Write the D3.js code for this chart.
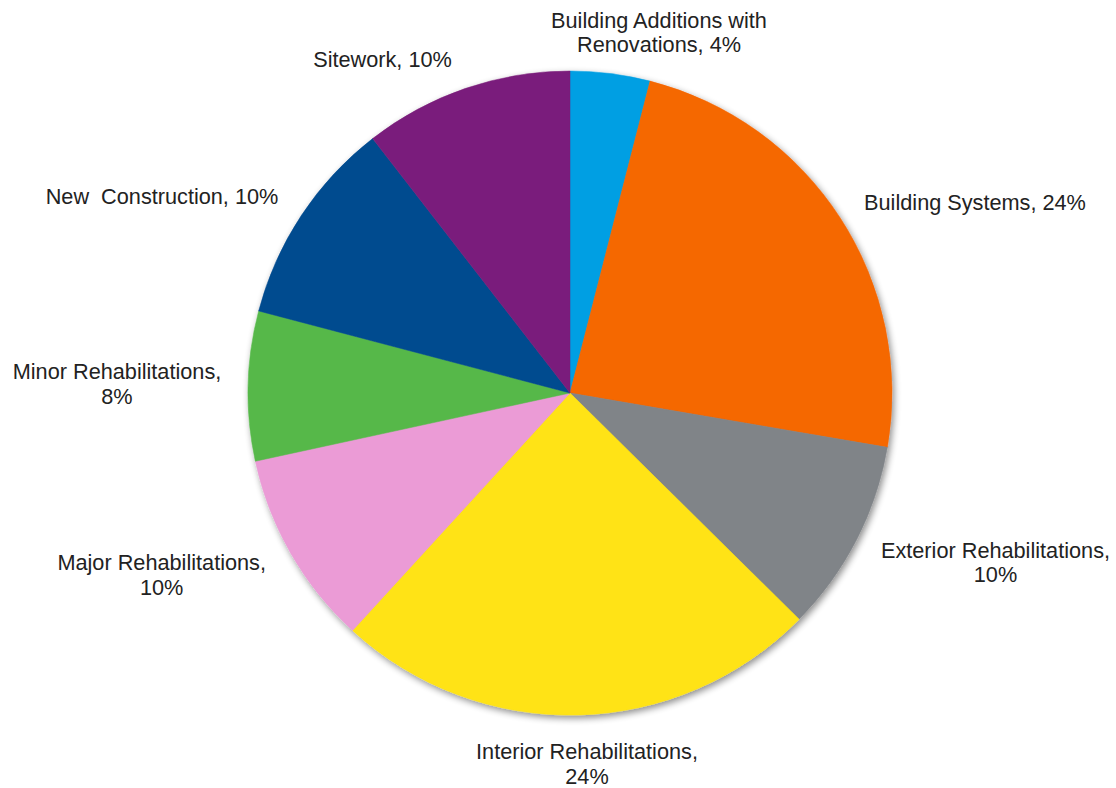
<!DOCTYPE html>
<html>
<head>
<meta charset="utf-8">
<script src="https://cdn.jsdelivr.net/npm/d3@7"></script>
<style>
  html, body { margin: 0; padding: 0; background: #ffffff; }
  svg { display: block; }
  text { font-family: "Liberation Sans", Arial, sans-serif; white-space: pre; }
</style>
</head>
<body>
<svg id="chart" width="1116" height="788"></svg>
<script>
// ---- data ----
const categories = [
  "Building Additions with Renovations",
  "Building Systems",
  "Exterior Rehabilitations",
  "Interior Rehabilitations",
  "Major Rehabilitations",
  "Minor Rehabilitations",
  "New  Construction",
  "Sitework"
];
const shares = [4.0, 23.7, 9.7, 24.4, 9.8, 7.5, 10.4, 10.5];
const labelPct = [4, 24, 10, 24, 10, 8, 10, 10];
const colors = ["#009FE3", "#F56700", "#808488", "#FFE312", "#EB9BD6", "#57B84A", "#004B8F", "#7A1E7B"];
// label line breaks: text before "|" is line 1
const labelTexts = [
  "Building Additions with|Renovations, 4%",
  "Building Systems, 24%",
  "Exterior Rehabilitations,|10%",
  "Interior Rehabilitations,|24%",
  "Major Rehabilitations,|10%",
  "Minor Rehabilitations,|8%",
  "New  Construction, 10%",
  "Sitework, 10%"
];

// ---- layout ----
const W = 1116, H = 788;
const cx = 570, cy = 393, R = 322;
const fontSize = 21.7, lineH = 24.6;
// label anchor (center x, first baseline y)
const labelAnchors = [
  [659, 27.7], [975, 210], [995.5, 557.7], [587, 759.3],
  [161.7, 570], [117, 379.3], [162, 204.3], [382.5, 66.7]
];

const svg = d3.select("#chart");
const defs = svg.append("defs");
const f = defs.append("filter").attr("id", "shadow")
  .attr("x", "-10%").attr("y", "-10%").attr("width", "120%").attr("height", "120%");
f.append("feGaussianBlur").attr("in", "SourceAlpha").attr("stdDeviation", 3.5).attr("result", "b");
f.append("feOffset").attr("in", "b").attr("dx", 1.5).attr("dy", 2.5).attr("result", "o");
f.append("feComponentTransfer").attr("in", "o").attr("result", "s")
  .append("feFuncA").attr("type", "linear").attr("slope", 0.45);
const m = f.append("feMerge");
m.append("feMergeNode").attr("in", "s");
m.append("feMergeNode").attr("in", "SourceGraphic");

const data = categories.map((c, i) => ({ name: c, value: shares[i], color: colors[i], pct: labelPct[i], text: labelTexts[i] }));

const pie = d3.pie().value(d => d.value).sort(null).startAngle(0).endAngle(2 * Math.PI);
const arc = d3.arc().innerRadius(0).outerRadius(R);

const g = svg.append("g").attr("transform", `translate(${cx},${cy})`).attr("filter", "url(#shadow)");
g.selectAll("path").data(pie(data)).join("path")
  .attr("d", arc)
  .attr("fill", d => d.data.color)
  .attr("stroke", d => d.data.color)
  .attr("stroke-width", 0.5);

const lg = svg.append("g");
data.forEach((d, i) => {
  const [x, y] = labelAnchors[i];
  const t = lg.append("text")
    .attr("x", x).attr("y", y)
    .attr("text-anchor", "middle")
    .attr("font-size", fontSize)
    .attr("fill", "#222222");
  d.text.split("|").forEach((line, k) => {
    t.append("tspan").attr("x", x).attr("y", y + k * lineH).text(line);
  });
});
</script>
</body>
</html>
